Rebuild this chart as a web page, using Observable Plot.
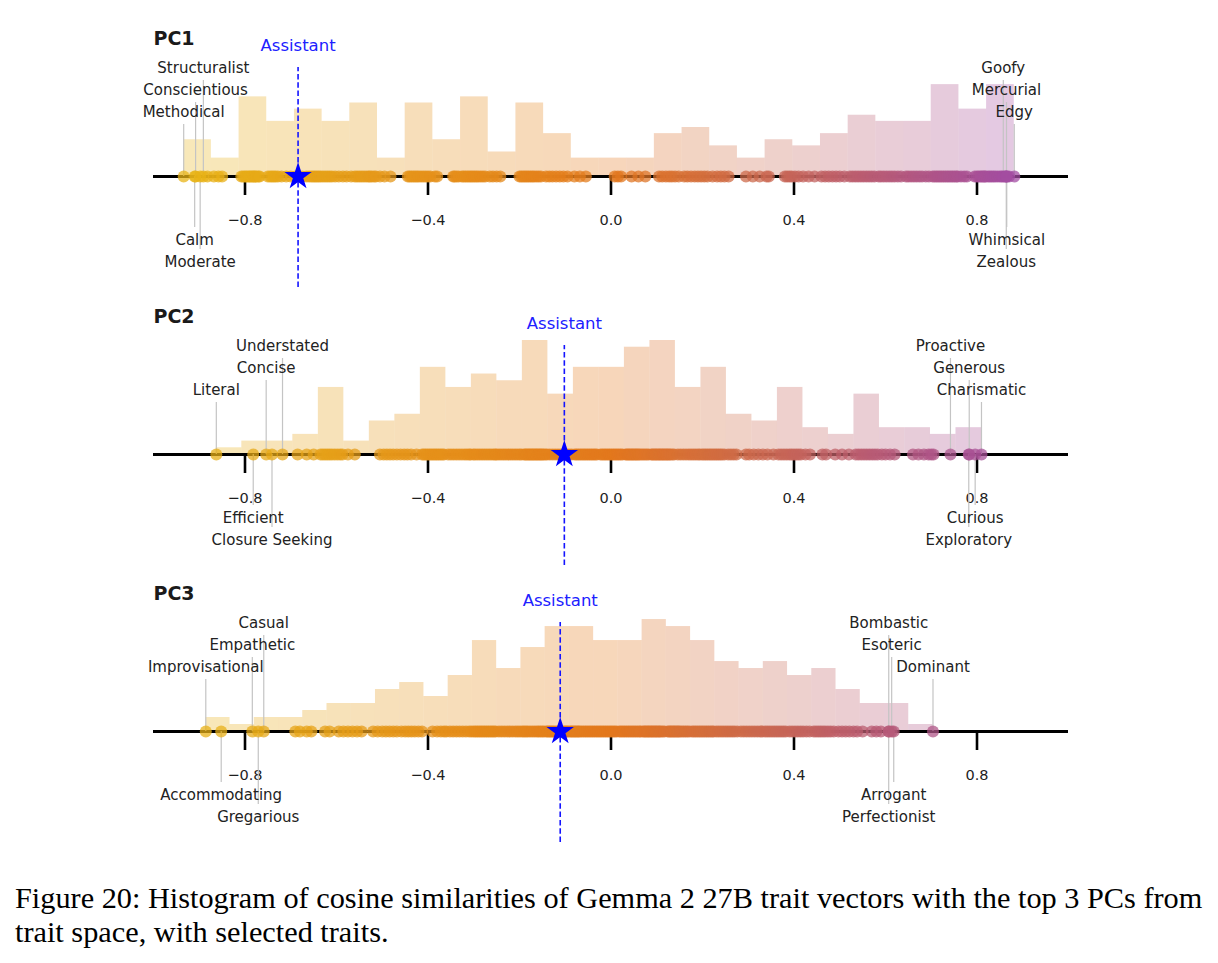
<!DOCTYPE html>
<html>
<head>
<meta charset="utf-8">
<script src="https://cdn.jsdelivr.net/npm/d3@7"></script>
<script src="https://cdn.jsdelivr.net/npm/@observablehq/plot@0.6"></script>
<style>
  html, body { margin: 0; padding: 0; background: #fff; }
  #page { position: relative; width: 1218px; height: 963px; overflow: hidden; }
  .panel { position: absolute; left: 0; }
  .panel svg { display: block; overflow: visible; }
  #caption {
    position: absolute; left: 15px; top: 881px; width: 1203px;
    font-family: "Liberation Serif", "Times New Roman", serif;
    font-size: 30.3px; line-height: 34px; color: #000; white-space: nowrap;
  }
</style>
</head>
<body>
<div id="page">
  <div class="panel" id="p1" style="top:0px"></div>
  <div class="panel" id="p2" style="top:278px"></div>
  <div class="panel" id="p3" style="top:555px"></div>
  <div id="caption">Figure 20: Histogram of cosine similarities of Gemma 2 27B trait vectors with the top 3 PCs from<br>trait space, with selected traits.</div>
</div>
<script>
// ---------------- DATA ----------------
const panelTitles = ["PC1", "PC2", "PC3"];
const xTicks = [-0.8, -0.4, 0.0, 0.4, 0.8];

// PC1: cosine similarity of unlabeled traits
const pc1Values = [
  -0.882,
  -0.868, -0.858, -0.850,
  -0.808, -0.804, -0.800, -0.797, -0.793, -0.790, -0.787, -0.784, -0.781, -0.778, -0.775, -0.771, -0.768,
  -0.750, -0.745, -0.741, -0.737, -0.733, -0.728, -0.720, -0.710, -0.700,
  -0.690, -0.683, -0.675, -0.666, -0.660, -0.655, -0.651, -0.647, -0.643, -0.639, -0.635,
  -0.630, -0.625, -0.620, -0.615, -0.610, -0.603, -0.595, -0.586, -0.578,
  -0.568, -0.560, -0.555, -0.550, -0.545, -0.540, -0.535, -0.530, -0.527, -0.523, -0.518, -0.514,
  -0.505, -0.495, -0.482,
  -0.444, -0.440, -0.436, -0.432, -0.428, -0.424, -0.420, -0.415, -0.410, -0.405, -0.400, -0.395,
  -0.385, -0.380, -0.345, -0.342, -0.338, -0.333,
  -0.326, -0.322, -0.318, -0.314, -0.310, -0.306, -0.302, -0.298, -0.294, -0.290, -0.285, -0.280, -0.275,
  -0.265, -0.258, -0.250, -0.242,
  -0.200, -0.196, -0.192, -0.188, -0.184, -0.180, -0.176, -0.172, -0.168, -0.163, -0.158, -0.153,
  -0.142, -0.135, -0.128, -0.120, -0.112, -0.104, -0.095,
  -0.080, -0.068, -0.055,
  0.008, 0.015, 0.022,
  0.045, 0.060, 0.075,
  0.105, 0.112, 0.120, 0.127, 0.133, 0.140, 0.148,
  0.160, 0.167, 0.175, 0.183, 0.190, 0.197, 0.204, 0.211,
  0.222, 0.232, 0.240, 0.248, 0.257,
  0.295, 0.310, 0.325,
  0.340, 0.345, 0.380, 0.385, 0.390, 0.395,
  0.402, 0.410, 0.420, 0.432, 0.445,
  0.460, 0.468, 0.476, 0.484, 0.492, 0.500, 0.510,
  0.522, 0.528, 0.534, 0.540, 0.546, 0.552, 0.558, 0.564, 0.570, 0.576,
  0.585, 0.590, 0.596, 0.602, 0.608, 0.614, 0.620, 0.627, 0.634,
  0.645, 0.650, 0.656, 0.662, 0.668, 0.674, 0.680, 0.688, 0.695,
  0.703, 0.707, 0.711, 0.715, 0.719, 0.723, 0.727, 0.731, 0.735, 0.739, 0.743, 0.747, 0.751, 0.755, 0.758,
  0.765, 0.772, 0.778, 0.795, 0.800, 0.804, 0.808, 0.811, 0.814, 0.817, 0.819,
  0.824, 0.828, 0.832, 0.836, 0.840, 0.845, 0.850, 0.854, 0.861, 0.870
];
const pc1AboveNames = ["Structuralist", "Conscientious", "Methodical", "Goofy", "Mercurial", "Edgy"];
const pc1AboveValues = [-0.891, -0.908, -0.934, 0.8575, 0.8645, 0.8815];
const pc1BelowNames = ["Calm", "Moderate", "Whimsical", "Zealous"];
const pc1BelowValues = [-0.910, -0.898, 0.865, 0.864];
const pc1Assistant = -0.684;

// PC2
const pc2Values = [
  -0.685, -0.665, -0.650,
  -0.635, -0.630, -0.625, -0.620, -0.615, -0.610, -0.604, -0.598, -0.592, -0.587,
  -0.575, -0.560,
  -0.505, -0.497, -0.490, -0.483, -0.476,
  -0.468, -0.460, -0.452, -0.445, -0.437, -0.425,
  -0.413, -0.409, -0.405, -0.401, -0.397, -0.393, -0.389, -0.385, -0.381, -0.377, -0.373, -0.369, -0.365,
  -0.356, -0.350, -0.344, -0.338, -0.332, -0.326, -0.320, -0.315, -0.310, -0.307,
  -0.301, -0.297, -0.292, -0.287, -0.282, -0.277, -0.272, -0.267, -0.262, -0.257, -0.253, -0.250,
  -0.245, -0.240, -0.235, -0.230, -0.225, -0.220, -0.215, -0.210, -0.205, -0.200, -0.196,
  -0.190, -0.187, -0.184, -0.181, -0.178, -0.175, -0.172, -0.169, -0.166, -0.163, -0.160, -0.157, -0.154, -0.151, -0.148, -0.144, -0.140,
  -0.134, -0.128, -0.122, -0.116, -0.110, -0.104, -0.098, -0.092, -0.086,
  -0.079, -0.075, -0.071, -0.067, -0.063, -0.059, -0.055, -0.051, -0.047, -0.043, -0.039, -0.035, -0.031,
  -0.023, -0.019, -0.015, -0.011, -0.007, -0.003, 0.001, 0.005, 0.009, 0.013, 0.017, 0.021, 0.025,
  0.032, 0.035, 0.038, 0.041, 0.044, 0.047, 0.050, 0.053, 0.056, 0.059, 0.062, 0.066, 0.070, 0.074, 0.078, 0.082,
  0.088, 0.091, 0.094, 0.097, 0.100, 0.103, 0.106, 0.109, 0.112, 0.115, 0.118, 0.121, 0.124, 0.127, 0.130, 0.134, 0.138,
  0.146, 0.152, 0.158, 0.164, 0.170, 0.175, 0.180, 0.185, 0.190, 0.194,
  0.199, 0.203, 0.207, 0.211, 0.215, 0.219, 0.223, 0.227, 0.231, 0.235, 0.239, 0.243, 0.248,
  0.256, 0.262, 0.268, 0.274, 0.295, 0.302,
  0.312, 0.322, 0.332, 0.342, 0.355,
  0.366, 0.372, 0.378, 0.384, 0.390, 0.395, 0.400, 0.405, 0.410, 0.415,
  0.425, 0.435, 0.462, 0.470,
  0.490, 0.505, 0.520,
  0.535, 0.541, 0.547, 0.553, 0.559, 0.565, 0.571, 0.577, 0.583,
  0.592, 0.600, 0.610, 0.620,
  0.660, 0.672, 0.684, 0.694,
  0.700, 0.705
];
const pc2AboveNames = ["Understated", "Concise", "Literal", "Proactive", "Generous", "Charismatic"];
const pc2AboveValues = [-0.718, -0.7537, -0.8627, 0.742, 0.783, 0.8098];
const pc2BelowNames = ["Efficient", "Closure Seeking", "Curious", "Exploratory"];
const pc2BelowValues = [-0.782, -0.741, 0.796, 0.782];
const pc2Assistant = -0.102;

// PC3
const pc3Values = [
  -0.690, -0.680,
  -0.665, -0.655, -0.625,
  -0.615, -0.595, -0.585, -0.575,
  -0.565, -0.555, -0.545, -0.520,
  -0.510, -0.500, -0.492, -0.484, -0.476, -0.468,
  -0.458, -0.450, -0.443, -0.436, -0.429, -0.421, -0.413,
  -0.390, -0.380, -0.372, -0.365, -0.360,
  -0.352, -0.345, -0.338, -0.331, -0.324, -0.317, -0.310, -0.305,
  -0.300, -0.296, -0.292, -0.288, -0.284, -0.280, -0.276, -0.272, -0.268, -0.264, -0.260, -0.256, -0.252,
  -0.245, -0.239, -0.233, -0.227, -0.221, -0.215, -0.209, -0.204, -0.199,
  -0.194, -0.190, -0.186, -0.182, -0.177, -0.172, -0.167, -0.162, -0.158, -0.154, -0.150, -0.146,
  -0.141, -0.138, -0.135, -0.132, -0.129, -0.126, -0.122, -0.118, -0.114, -0.110, -0.106, -0.102, -0.099, -0.096, -0.093,
  -0.089, -0.086, -0.083, -0.080, -0.077, -0.074, -0.071, -0.068, -0.064, -0.060, -0.056, -0.052, -0.048, -0.044, -0.040,
  -0.036, -0.032, -0.028, -0.024, -0.020, -0.016, -0.012, -0.008, -0.004, 0.000, 0.004, 0.008, 0.012,
  0.018, 0.022, 0.026, 0.030, 0.034, 0.038, 0.042, 0.046, 0.050, 0.054, 0.058, 0.062, 0.065,
  0.070, 0.073, 0.076, 0.079, 0.082, 0.085, 0.088, 0.091, 0.094, 0.097, 0.100, 0.103, 0.106, 0.109, 0.113, 0.117,
  0.124, 0.127, 0.130, 0.133, 0.136, 0.139, 0.142, 0.145, 0.148, 0.151, 0.155, 0.159, 0.163, 0.167, 0.171,
  0.177, 0.181, 0.185, 0.189, 0.193, 0.197, 0.201, 0.205, 0.209, 0.213, 0.217, 0.221, 0.224,
  0.230, 0.235, 0.240, 0.245, 0.250, 0.255, 0.260, 0.265, 0.270, 0.276,
  0.284, 0.290, 0.296, 0.302, 0.308, 0.314, 0.320, 0.326, 0.330,
  0.337, 0.342, 0.347, 0.352, 0.357, 0.362, 0.367, 0.372, 0.377, 0.382,
  0.390, 0.396, 0.402, 0.408, 0.414, 0.420, 0.427, 0.434,
  0.443, 0.448, 0.453, 0.458, 0.463, 0.468, 0.474, 0.480, 0.487,
  0.497, 0.505, 0.513, 0.521, 0.530, 0.538,
  0.550, 0.570, 0.580, 0.590
];
const pc3AboveNames = ["Casual", "Empathetic", "Improvisational", "Bombastic", "Esoteric", "Dominant"];
const pc3AboveValues = [-0.759, -0.784, -0.8857, 0.6071, 0.6135, 0.7038];
const pc3BelowNames = ["Accommodating", "Gregarious", "Arrogant", "Perfectionist"];
const pc3BelowValues = [-0.852, -0.771, 0.618, 0.607];
const pc3Assistant = -0.111;

// ---------------- LAYOUT / STYLE ----------------
const W = 1218, H = 300, AXIS = 176;          // axis line y inside each panel svg
const NBINS = 30;
const PX_PER_DENSITY = 88.6;                    // shared density scale across panels
const yPx = px => px / PX_PER_DENSITY;          // pixel offset above the axis -> y units
const ABOVE_ROWS = [108, 86, 64];
const BELOW_ROWS = [64, 86];
const LINE_GAP = 12;
const TICK_LEN = 19, TICK_LABEL = 43.5;
const COLOR_DOMAIN = [-0.93, 0, 0.88];
const COLOR_RANGE = ["#e8b416", "#e3781c", "#a24ca2"];
const FONT = "'DejaVu Sans', Verdana, sans-serif";
const fmt = d3.format(".1f");

function drawPanel(el, title, values, aboveNames, aboveValues, belowNames, belowValues, assistant) {
  const all = values.concat(aboveValues, belowValues);
  const lo = d3.min(all), hi = d3.max(all), w = (hi - lo) / NBINS;
  const bins = d3.bin().domain([lo, hi]).thresholds(d3.range(1, NBINS).map(k => lo + k * w))(all);
  const hist = bins.map(b => ({x0: b.x0, x1: b.x1, mid: (b.x0 + b.x1) / 2, density: b.length / (all.length * w)}));
  const above = aboveNames.map((name, i) => ({name, value: aboveValues[i], row: i % 3}));
  const below = belowNames.map((name, i) => ({name, value: belowValues[i], row: i % 2}));

  const chart = Plot.plot({
    width: W, height: H,
    marginLeft: 153, marginRight: 150, marginTop: 0, marginBottom: H - AXIS,
    style: {background: "transparent", overflow: "visible", fontFamily: FONT},
    x: {domain: [-1, 1], axis: null},
    y: {domain: [0, AXIS / PX_PER_DENSITY], range: [AXIS, 0], axis: null},
    color: {type: "linear", domain: COLOR_DOMAIN, range: COLOR_RANGE, interpolate: "rgb", clamp: true},
    marks: [
      Plot.rectY(hist, {x1: "x0", x2: "x1", y: "density", fill: "mid", fillOpacity: 0.3, inset: 0}),
      // x ticks and tick labels
      Plot.ruleX(xTicks, {x: d => d, y1: 0, y2: yPx(-TICK_LEN), stroke: "#000", strokeWidth: 2.6}),
      Plot.text(xTicks, {x: d => d, y: yPx(-TICK_LABEL), text: d => fmt(d), fontSize: 14.5, fill: "#1e1e1e",
                         textAnchor: "middle", lineAnchor: "middle"}),
      Plot.ruleY([0], {stroke: "#000", strokeWidth: 3}),
      // leader lines
      Plot.ruleX(above, {x: "value", y1: 0, y2: d => yPx(ABOVE_ROWS[d.row] - LINE_GAP), stroke: "#c4c4c4", strokeWidth: 1.2}),
      Plot.ruleX(below, {x: "value", y1: 0, y2: d => yPx(-(BELOW_ROWS[d.row] - LINE_GAP - 1)), stroke: "#c4c4c4", strokeWidth: 1.2}),
      // trait dots
      Plot.dot(all, {x: d => d, y: 0, r: 6, fill: d => d, fillOpacity: 0.74, stroke: "none"}),
      // labels
      Plot.text(above, {x: "value", y: d => yPx(ABOVE_ROWS[d.row]), text: "name", fontSize: 15, fill: "#222",
                        textAnchor: "middle", lineAnchor: "middle"}),
      Plot.text(below, {x: "value", y: d => yPx(-BELOW_ROWS[d.row]), text: "name", fontSize: 15, fill: "#222",
                        textAnchor: "middle", lineAnchor: "middle"}),
      // assistant
      Plot.ruleX([assistant], {x: d => d, y1: yPx(-111), y2: yPx(109), stroke: "#1414ff", strokeWidth: 1.6, strokeDasharray: "5.5,2.8"}),
      Plot.dot([assistant], {x: d => d, y: 0, symbol: "star", r: 8.6, fill: "#0000ff", stroke: "none"}),
      Plot.text([assistant], {x: d => d, y: yPx(131), text: () => "Assistant", fontSize: 16.5, fill: "#2020ff",
                              textAnchor: "middle", lineAnchor: "middle"}),
      // panel title
      Plot.text([title], {x: -1, y: yPx(138), text: d => d, fontSize: 19, fontWeight: "bold", fill: "#1a1a1a",
                          textAnchor: "start", lineAnchor: "middle"})
    ]
  });
  document.getElementById(el).appendChild(chart);
}

drawPanel("p1", panelTitles[0], pc1Values, pc1AboveNames, pc1AboveValues, pc1BelowNames, pc1BelowValues, pc1Assistant);
drawPanel("p2", panelTitles[1], pc2Values, pc2AboveNames, pc2AboveValues, pc2BelowNames, pc2BelowValues, pc2Assistant);
drawPanel("p3", panelTitles[2], pc3Values, pc3AboveNames, pc3AboveValues, pc3BelowNames, pc3BelowValues, pc3Assistant);
</script>
</body>
</html>
